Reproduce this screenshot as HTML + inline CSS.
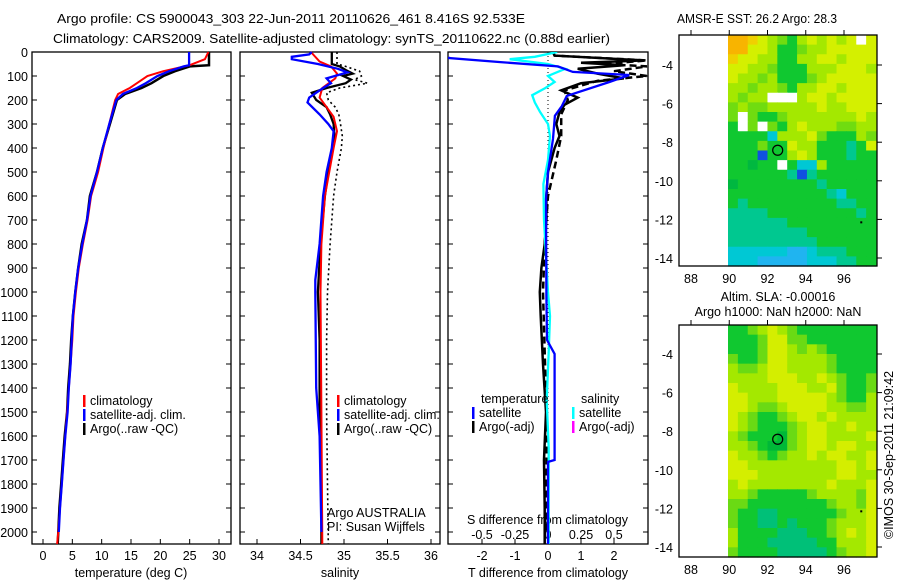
<!DOCTYPE html>
<html><head><meta charset="utf-8"><style>
body{margin:0;background:#fff}
svg{display:block;font-family:"Liberation Sans",sans-serif}
text{font-size:12.5px;fill:#000}
</style></head><body>
<svg id="fig" width="900" height="580" viewBox="0 0 900 580" xmlns="http://www.w3.org/2000/svg">
<text x="57" y="23" textLength="468" lengthAdjust="spacingAndGlyphs">Argo profile: CS 5900043_303 22-Jun-2011 20110626_461 8.416S 92.533E</text>
<text x="53" y="43" textLength="557" lengthAdjust="spacingAndGlyphs">Climatology: CARS2009. Satellite-adjusted climatology: synTS_20110622.nc (0.88d earlier)</text>
<text x="677" y="23" textLength="160" lengthAdjust="spacingAndGlyphs">AMSR-E SST: 26.2 Argo: 28.3</text>
<text x="778" y="301" text-anchor="middle">Altim. SLA: -0.00016</text>
<text x="778" y="316" text-anchor="middle">Argo h1000: NaN h2000: NaN</text>
<text transform="translate(893,455) rotate(-90)" text-anchor="middle">©IMOS 30-Sep-2011 21:09:42</text>
<g id="layer"></g>
</svg>
<script>
// ---------- data ----------
var depthTicks=[0,100,200,300,400,500,600,700,800,900,1000,1100,1200,1300,1400,1500,1600,1700,1800,1900,2000];
var tempTicks=[0,5,10,15,20,25,30];
var salTicks=[34,34.5,35,35.5,36];
var salTickLabels=["34","34.5","35","35.5","36"];
var tdiffTicks=[-2,-1,0,1,2];
var sdiffTicks=[-0.5,-0.25,0,0.25,0.5];
var sdiffTickLabels=["-0.5","-0.25","0","0.25","0.5"];
var lonTicks=[88,90,92,94,96];
var latTicks=[-4,-6,-8,-10,-12,-14];

var tArgoDepth=[0,55,60,80,100,130,150,175,200,250,300,400,500,600,700,800,900,1000,1100,1200,1300,1400,1500,1600,1700,1800,1900,2000,2050];
var tArgo=[28.3,28.3,25,22.5,20.5,18.5,16.8,14,12.6,12,11.4,10.2,9.2,8,7.5,6.6,6,5.5,5.1,4.8,4.6,4.3,4.1,3.7,3.4,3.1,2.8,2.6,2.5];
var tClimDepth=[0,30,55,80,100,130,150,175,200,250,300,400,500,600,700,800,900,1000,1100,1200,1300,1400,1500,1600,1700,1800,1900,2000,2050];
var tClim=[28.2,27.6,25,20.5,17.8,16,14.8,12.8,12.3,11.8,11.3,10.3,9.4,8.2,7.6,6.8,6.1,5.6,5.2,5,4.7,4.4,4.1,3.8,3.5,3.2,2.9,2.6,2.4];
var tSatDepth=[0,55,60,80,100,130,150,175,200,250,300,400,500,600,700,800,900,1000,1100,1200,1300,1400,1500,1600,1700,1800,1900,2000];
var tSat=[24.9,24.9,24,21.5,19.5,17.5,16,13.6,12.5,11.9,11.3,10.2,9.2,8.1,7.5,6.7,6,5.5,5.1,4.9,4.7,4.4,4.2,3.8,3.5,3.2,2.9,2.7];

var sArgoDepth=[0,50,60,75,90,100,115,130,150,170,200,230,260,300,350,400,500,600,800,1000,1200,1500,1800,2050];
var sArgo=[34.86,34.86,34.95,35.02,35.1,34.99,35.08,35.02,34.8,34.63,34.68,34.8,34.84,34.88,34.89,34.87,34.82,34.78,34.73,34.7,34.72,34.72,34.74,34.74];
var sArgoRawDepth=[0,50,60,80,100,115,130,150,170,200,230,260,300,350,400,500,600,800,1000,1200,1500,1800,2050];
var sArgoRaw=[34.92,34.92,35.02,35.18,35.2,35.12,35.27,34.95,34.8,34.82,34.9,34.94,34.96,34.98,34.97,34.92,34.88,34.84,34.81,34.8,34.8,34.81,34.82];
var sSatDepth=[0,10,20,30,50,70,85,110,130,150,190,210,260,300,330,400,500,600,800,950,1000,1400,1600,2000];
var sSat=[34.63,34.6,34.4,34.4,34.7,34.93,35.04,34.8,34.85,34.76,34.6,34.58,34.72,34.82,34.88,34.86,34.8,34.76,34.72,34.67,34.67,34.68,34.72,34.74];
var sClimDepth=[0,40,60,90,110,150,190,220,270,330,400,600,800,1000,1500,2050];
var sClim=[34.62,34.72,34.85,34.92,34.9,34.75,34.72,34.78,34.88,34.92,34.88,34.78,34.74,34.73,34.74,34.75];

var tdSatDepth=[20,25,42,60,83,96,125,183,225,266,362,500,612,1016,1200,1258,1300,1700,1708,1800,2050];
var tdSat=[-3,-3,-1.44,0.3,0.75,2.46,1.86,0.57,0.42,0.21,0.15,0,-0.06,-0.05,-0.03,0.2,0.2,0.2,0,0,0];
var sdSatDepth=[0,20,30,50,70,100,125,150,180,210,250,300,350,450,550,700,1000,1100,1250,1450,1650,1850,2050];
var sdSat=[0.07,-0.1,-0.29,0,0.13,0,0.05,-0.02,-0.12,-0.1,-0.06,0,0.015,0,-0.035,-0.03,0,0.015,0.005,-0.01,0.005,0.005,0.005];
var tdArgoDepth=[0,15,35,45,55,70,90,110,130,160,190,220,250,300,350,400,500,600,700,800,900,1000,1100,1300,1500,1700,1900,2050];
var tdArgo=[0.15,0.2,2.9,1.0,2.3,0.9,1.5,2.3,1.0,0.4,0.9,0.5,0.35,0.25,0.35,0.2,0,-0.05,-0.05,-0.1,-0.2,-0.25,-0.22,-0.15,-0.06,-0.12,-0.1,-0.1];
var tdArgoRawDepth=[0,15,35,50,60,80,100,120,160,200,260,350,450,600,800,1000,1500,2000];
var tdArgoRaw=[0.15,0.2,3.0,1.7,3.0,2.0,3.0,1.5,0.5,0.6,0.4,0.4,0.25,0,-0.1,-0.15,-0.05,-0.05];

var sstGrid=[
"OOoYLMGLYLYLYWY","OOYYLGGMLLYYYYY","oYYLLGGLLYYLYYY","YYLLMGGGLLLYYYL",
"YLLMLGGGMLYYYYY","LLMLLMGLLYYLYYY","LMLLWWWLYYLYYYY","MLMMLLLLLYLLYYY",
"MWMGGMLLLLLLLYL","GWMWMGLYLLLMMLL","GGGGCLLLYMGGGLM","GGGMGGYLLGGGTGY",
"GGGBGGLYLGGGTGG","GGgGGWGCCLGGGGG","GGGGGGTBTGGGGGG","gGGGGGGGGTGGGGG",
"GGGGGGGGGGTCGGG","GTGGGGGGGGGTTGG","TTTTGGGGGGGGGTG","TTTTTTGGGGGGGGG",
"TTTTTTTTGGGGGGG","TTTTTTTTTGGGGGG","CCCCCCSSCTTTGGG","CCCSSSSSCCCTTGG"];
var slaGrid=[
"GGMLYLMGGGGGGGG","GGGMYYMMGGGGGGG","GGGMYYLMLMGGGGG","MGGMYYLLLLMGGGG",
"LMMLYYLLLLMGGGG","LLLLYYYLLYLMGGM","YLLLLYYYLLYMGGM","YYLLLYYYYYLMGGL",
"YYLMMLYYYYLLMML","YLMGGMLYYLYLLLL","YLMGGGMLYYLLYLL","LMGGGgMLYYLLLLY",
"LLMGggMLYYLYYLL","YLLMGMLLYLYYLLY","YYLLLLLLLLLYYLY","YYYLLLLLLLLYYLL",
"LYLLLLLLLLYLLLY","LLMGGGGGMLLLLMY","MMGGGGGGGGMLLMY","MGGTTGGGGGGMLLY",
"MGGTTGTGGGMLLLY","LGGGGTTTGGMLYLY","LGGGTTTTTGGLLLY","MGGGGTTTTTGMLLY"];
var sstColors={O:"#f8b400",o:"#f0d000",Y:"#d4f000",L:"#a4e800",M:"#70dc10",G:"#10c830",g:"#00b840",T:"#00c890",C:"#00c8d4",S:"#20b4f0",W:"#ffffff",B:"#1050e0"};
var slaColors={Y:"#d4ee00",L:"#a4e800",M:"#6ada14",G:"#10c830",g:"#00b838",T:"#00c078"};
var argoLon=92.533, argoLat=-8.416;

// ---------- helpers ----------
var NS="http://www.w3.org/2000/svg";
var layer=document.getElementById('layer');
function el(tag,attrs,parent){var e=document.createElementNS(NS,tag);for(var k in attrs)e.setAttribute(k,attrs[k]);(parent||layer).appendChild(e);return e;}
function txt(x,y,s,anchor,parent){var t=el('text',{x:x,y:y,'text-anchor':anchor||'start'},parent);t.textContent=s;return t;}
function lin(d0,d1,r0,r1){return function(v){return r0+(v-d0)*(r1-r0)/(d1-d0);};}

var yD=lin(0,2000,52,532); // depth -> y
var PB=544;
function frame(x0,x1,name){
  var r=el('rect',{x:x0,y:52,width:x1-x0,height:PB-52,fill:'none',stroke:'#000','stroke-width':1.3});
  
  
  depthTicks.forEach(function(d){
    el('line',{x1:x0,x2:x0+5,y1:yD(d),y2:yD(d),stroke:'#000'});
    el('line',{x1:x1-5,x2:x1,y1:yD(d),y2:yD(d),stroke:'#000'});
  });
}
function series(xs,ds,xf,color,name,dash,w){
  var pts=ds.map(function(d,i){return xf(xs[i]).toFixed(1)+','+yD(d).toFixed(1);}).join(' ');
  var p=el('polyline',{points:pts,fill:'none',stroke:color,'stroke-width':w||2,'stroke-dasharray':dash||'none'});
  
  
}
function legendEntry(x,y,color,label,name){
  var g=el('g',{});
  
  
  el('rect',{x:x,y:y-10,width:2.5,height:12,fill:color},g);
  txt(x+7,y,label,'start',g);
}

// ---------- panel 1: temperature ----------
var xT=lin(0,30,43,219);
frame(32,231,'temperature-panel');
depthTicks.forEach(function(d){var t=txt(28,yD(d)+5,String(d),'end');});
tempTicks.forEach(function(v){el('line',{x1:xT(v),x2:xT(v),y1:PB,y2:PB-5,stroke:'#000'});var t=txt(xT(v),560,String(v),'middle');});
var t1=txt(131,577,'temperature (deg C)','middle');


series(tArgo,tArgoDepth,xT,'#000','temperature-argo-line',null,2.5);
series(tClim,tClimDepth,xT,'#f00','temperature-climatology-line');
series(tSat,tSatDepth,xT,'#0000ff','temperature-satellite-line',null,2.3);
legendEntry(83,405,'#f00','climatology','legend-climatology');
legendEntry(83,419,'#0000ff','satellite-adj. clim.','legend-satellite-adj');
legendEntry(83,433,'#000','Argo(..raw -QC)','legend-argo');

// ---------- panel 2: salinity ----------
var xS=lin(34,36,257,431);
frame(240,440,'salinity-panel');
salTicks.forEach(function(v,i){el('line',{x1:xS(v),x2:xS(v),y1:PB,y2:PB-5,stroke:'#000'});var t=txt(xS(v),560,salTickLabels[i],'middle');});
var t2=txt(340,577,'salinity','middle');


series(sArgoRaw,sArgoRawDepth,xS,'#000','salinity-argo-raw-line','2,3',1.6);
series(sArgo,sArgoDepth,xS,'#000','salinity-argo-line',null,2.3);
series(sClim,sClimDepth,xS,'#f00','salinity-climatology-line');
series(sSat,sSatDepth,xS,'#0000ff','salinity-satellite-line',null,2.3);
legendEntry(337,405,'#f00','climatology','legend-climatology-s');
legendEntry(337,419,'#0000ff','satellite-adj. clim.','legend-satellite-adj-s');
legendEntry(337,433,'#000','Argo(..raw -QC)','legend-argo-s');
var a1=txt(327,517,'Argo AUSTRALIA');


var a2=txt(327,531,'PI: Susan Wijffels');



// ---------- panel 3: differences ----------
var xTD=lin(0,2,548,614);
var xSD=lin(0,0.5,548,614);
frame(448,648,'difference-panel');
el('line',{x1:548,x2:548,y1:52,y2:PB,stroke:'#000','stroke-dasharray':'1,3','stroke-width':1});
tdiffTicks.forEach(function(v){el('line',{x1:xTD(v),x2:xTD(v),y1:PB,y2:PB-5,stroke:'#000'});var t=txt(xTD(v),560,String(v),'middle');});
sdiffTicks.forEach(function(v,i){var t=txt(xSD(v),539,sdiffTickLabels[i],'middle');});
var t3=txt(548,577,'T difference from climatology','middle');


var t4=txt(467,524,'S difference from climatology');


var clip=el('clipPath',{id:'c3'});el('rect',{x:448,y:52,width:200,height:PB-52},clip);
var g3=el('g',{'clip-path':'url(#c3)'});
var saveLayer=layer; layer=g3;
series(tdArgoRaw,tdArgoRawDepth,xTD,'#000','tdiff-argo-raw-line','7,4',2.5);
series(tdArgo,tdArgoDepth,xTD,'#000','tdiff-argo-line',null,2.5);
series(sdSat,sdSatDepth,xSD,'#00ffff','sdiff-satellite-line',null,2.3);
series(tdSat,tdSatDepth,xTD,'#0000ff','tdiff-satellite-line',null,2.3);
layer=saveLayer;
var lt=txt(481,403,'temperature');


var ls=txt(581,403,'salinity');


legendEntry(472,417,'#0000ff','satellite','legend-t-satellite');
legendEntry(472,431,'#000','Argo(-adj)','legend-t-argo');
legendEntry(572,417,'#00ffff','satellite','legend-s-satellite');
legendEntry(572,431,'#ff00ff','Argo(-adj)','legend-s-argo');

// ---------- maps ----------
var xLon=lin(88,96,691,844);
function map(top,bottom,latRef,grid,colors,name){
  var yLat=lin(-4,-14,latRef,latRef+193);
  var g=el('g',{});
  
  
  var dx0=728,dx1=876,rows=grid.length,cols=grid[0].length;
  var cw=(dx1-dx0)/cols, ch=(bottom-top)/rows;
  for(var r=0;r<rows;r++)for(var c=0;c<cols;c++){
    el('rect',{x:(dx0+c*cw).toFixed(2),y:(top+r*ch).toFixed(2),width:(cw+0.6).toFixed(2),height:(ch+0.6).toFixed(2),fill:colors[grid[r][c]]},g);
  }
  el('rect',{x:679,y:top,width:198,height:bottom-top,fill:'none',stroke:'#000','stroke-width':1.3},g);
  lonTicks.forEach(function(v){
    el('line',{x1:xLon(v),x2:xLon(v),y1:top,y2:top-5,stroke:'#000'},g);
    var t=txt(xLon(v),bottom+17,String(v),'middle',g);
    
    
  });
  latTicks.forEach(function(v){
    el('line',{x1:877,x2:882,y1:yLat(v),y2:yLat(v),stroke:'#000'},g);
    var t=txt(673,yLat(v)+5,String(v),'end',g);
    
    
  });
  var m=el('circle',{cx:xLon(argoLon),cy:yLat(argoLat),r:5,fill:'none',stroke:'#000','stroke-width':1.2},g);
  
  
  el('rect',{x:xLon(96.85),y:yLat(-12.1),width:2,height:2,fill:'#000'},g);
}
map(35,266,65,sstGrid,sstColors,'sst-map');
map(325,557,354,slaGrid,slaColors,'sla-map');
</script>
</body></html>
